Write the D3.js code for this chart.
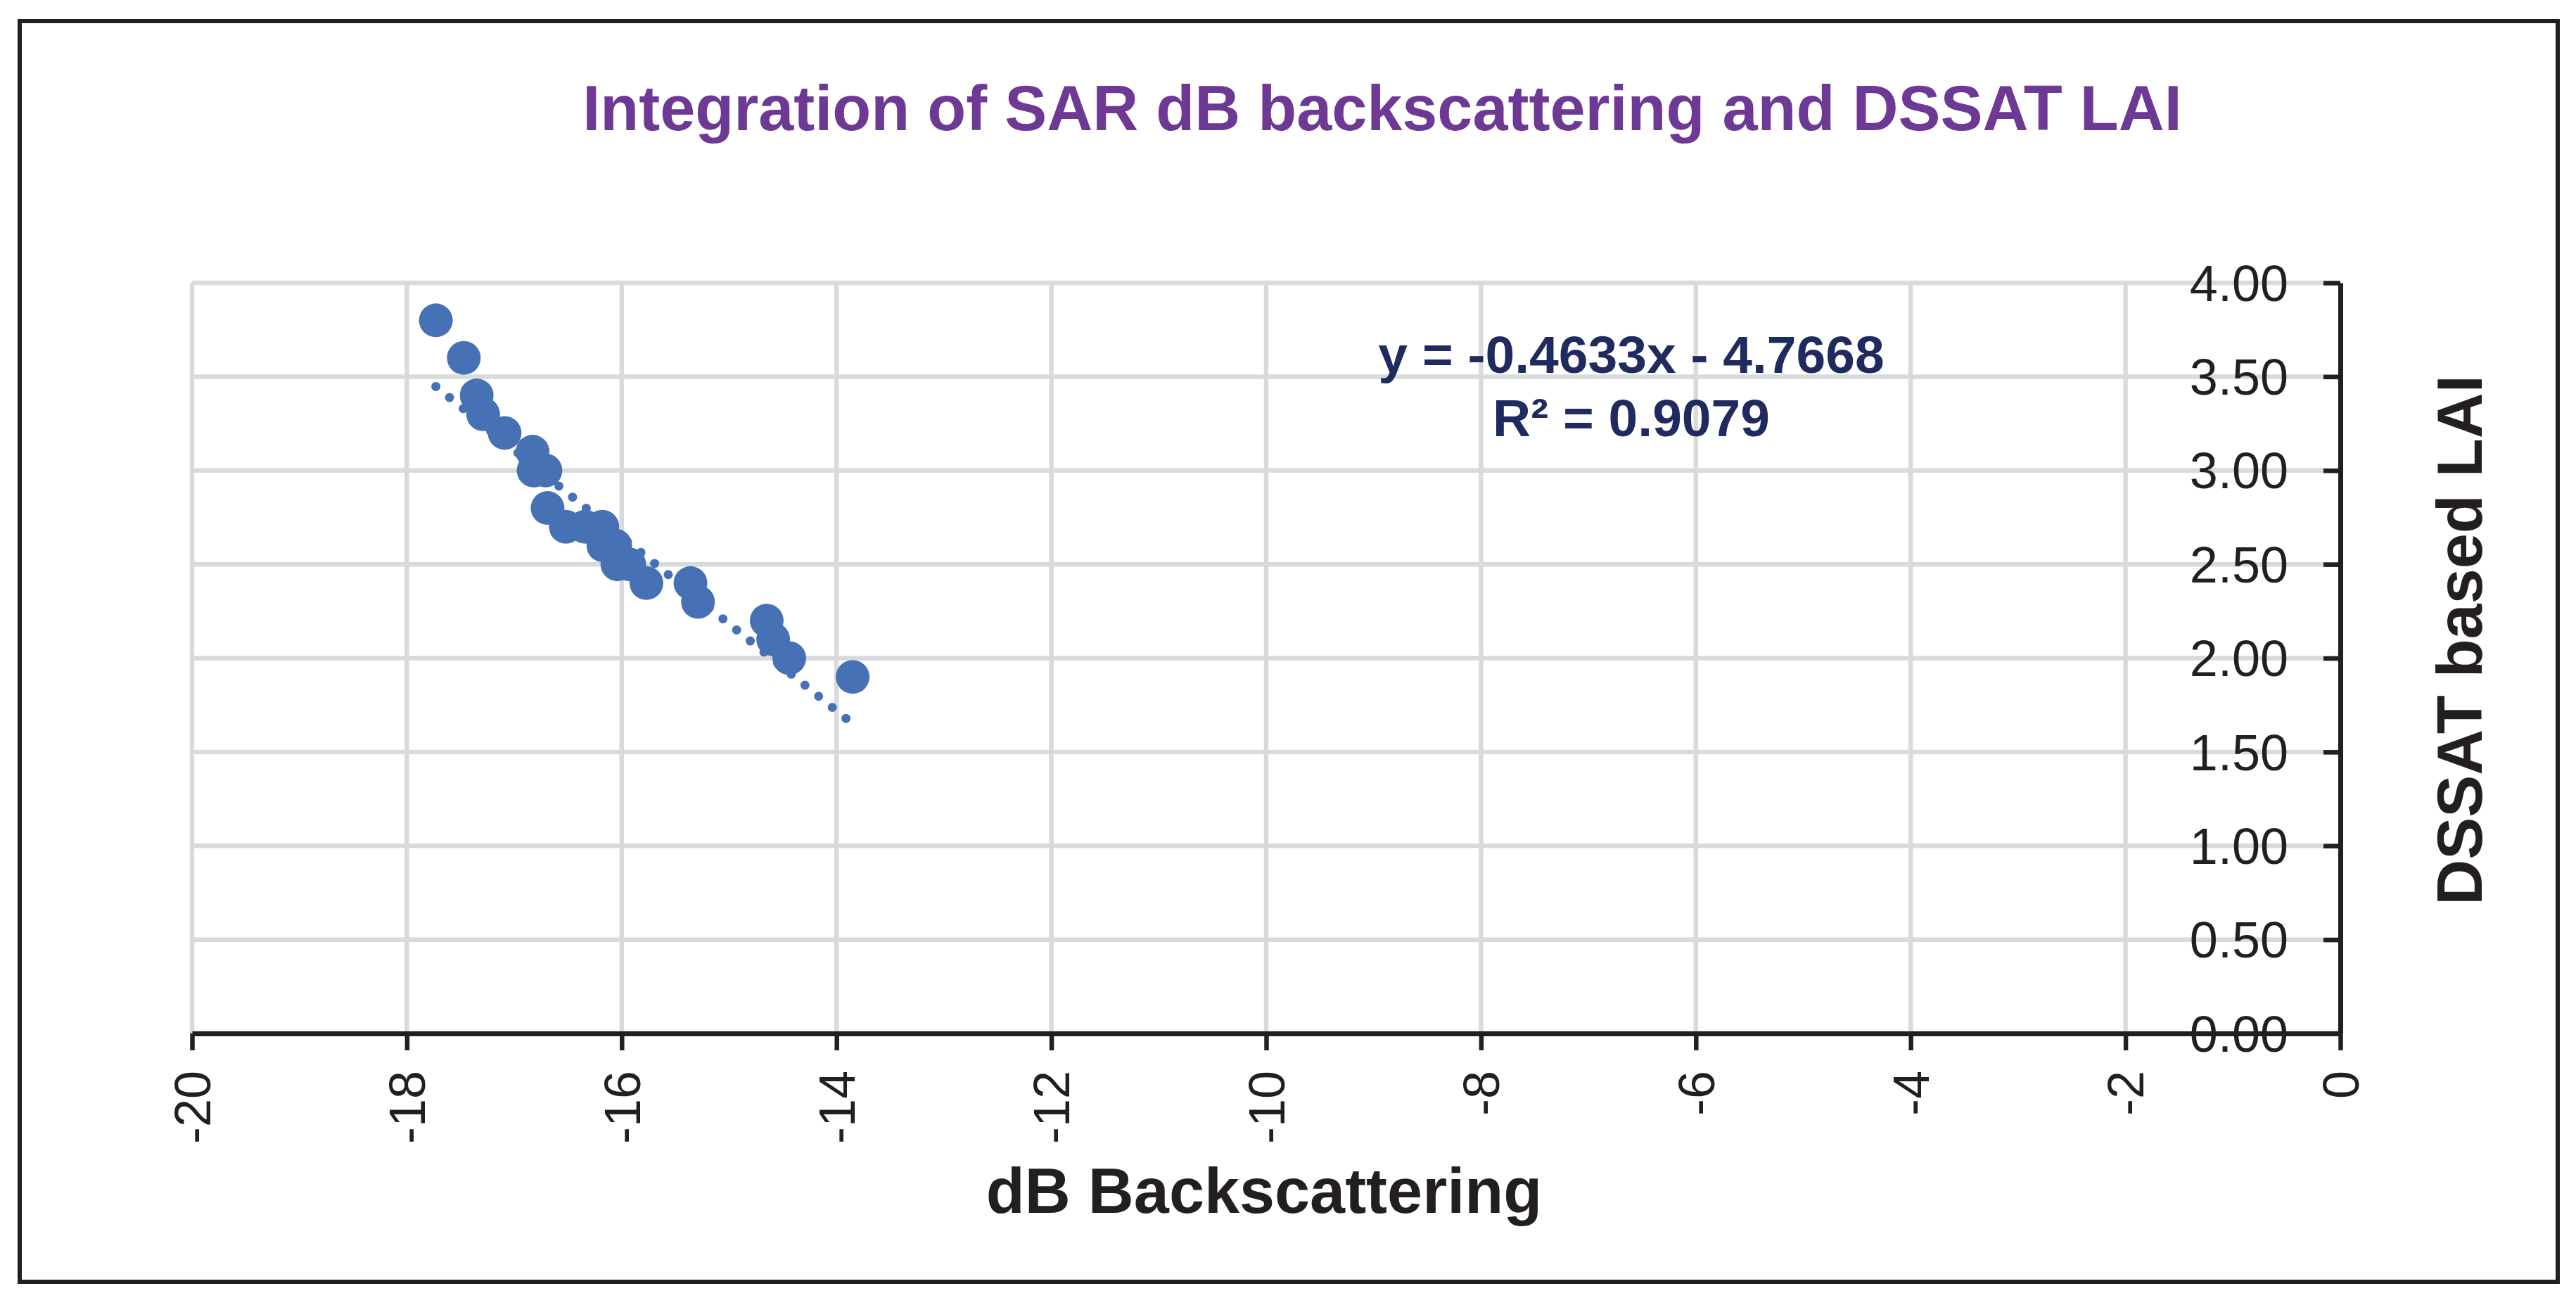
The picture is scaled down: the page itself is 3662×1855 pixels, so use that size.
<!DOCTYPE html>
<html>
<head>
  <meta charset='utf-8'>
  <title>Integration of SAR dB backscattering and DSSAT LAI</title>
  <script src='https://cdn.jsdelivr.net/npm/d3@7/dist/d3.min.js'></script>
  <style>
    body { margin: 0; background: #ffffff; }
    svg { display: block; font-family: 'Liberation Sans', Arial, sans-serif; }
  </style>
</head>
<body>
  <svg id='chart'></svg>
  <script>
    // data
    const backscatterDb = [
      -17.73, -17.47, -17.35, -17.29, -17.09, -16.83, -16.82, -16.71,
      -16.69, -16.52, -16.34, -16.18, -16.17, -16.06, -16.04, -15.93,
      -15.77, -15.36, -15.29, -14.65, -14.59, -14.44, -13.85
    ];
    const dssatLai = [
      3.80, 3.60, 3.40, 3.30, 3.20, 3.10, 3.00, 3.00,
      2.80, 2.70, 2.70, 2.70, 2.60, 2.60, 2.50, 2.50,
      2.40, 2.40, 2.30, 2.20, 2.10, 2.00, 1.90
    ];
    const trendSlope = -0.4633;
    const trendIntercept = -4.7668;
    const trendLabels = ['y = -0.4633x - 4.7668', 'R\u00b2 = 0.9079'];
    const xTicks = [-20, -18, -16, -14, -12, -10, -8, -6, -4, -2, 0];
    const yTicks = [0, 0.5, 1, 1.5, 2, 2.5, 3, 3.5, 4];
    const titleText = 'Integration of SAR dB backscattering and DSSAT LAI';
    const xTitle = 'dB Backscattering';
    const yTitle = 'DSSAT based LAI';

    const width = 3662;
    const height = 1855;
    const plot = { left: 273, right: 3327, top: 402, bottom: 1469 };
    const ink = '#231f20';
    const gridColor = '#d9dadb';
    const dotColor = '#4672b5';

    const svg = d3.select('#chart')
        .attr('width', width)
        .attr('height', height);

    svg.append('rect')
        .attr('width', width)
        .attr('height', height)
        .attr('fill', '#ffffff');

    // outer frame
    svg.append('rect')
        .attr('x', 28)
        .attr('y', 30)
        .attr('width', 3608)
        .attr('height', 1792)
        .attr('fill', 'none')
        .attr('stroke', ink)
        .attr('stroke-width', 6);

    const x = d3.scaleLinear()
        .domain([-20, 0])
        .range([plot.left, plot.right]);
    const y = d3.scaleLinear()
        .domain([0, 4])
        .range([plot.bottom, plot.top]);

    // gridlines
    const grid = svg.append('g')
        .attr('stroke', gridColor)
        .attr('stroke-width', 6.5);
    grid.selectAll('.vgrid')
        .data(xTicks)
        .join('line')
            .attr('x1', d => x(d))
            .attr('x2', d => x(d))
            .attr('y1', y(4))
            .attr('y2', y(0));
    grid.selectAll('.hgrid')
        .data(yTicks)
        .join('line')
            .attr('x1', x(-20))
            .attr('x2', x(0))
            .attr('y1', d => y(d))
            .attr('y2', d => y(d));

    // x axis at y = 0 with rotated labels
    const gX = svg.append('g')
        .attr('transform', `translate(0, ${y(0)})`)
        .call(d3.axisBottom(x)
            .tickValues(xTicks)
            .tickFormat(d => String(d))
            .tickSize(24)
            .tickSizeOuter(0));
    gX.selectAll('text')
        .attr('transform', 'rotate(-90)')
        .attr('text-anchor', 'end')
        .attr('x', -53)
        .attr('y', 0)
        .attr('dy', '0.35em');

    // y axis sits at x = 0, on the right
    const gY = svg.append('g')
        .attr('transform', `translate(${x(0)}, 0)`)
        .call(d3.axisLeft(y)
            .tickValues(yTicks)
            .tickFormat(d3.format('.2f'))
            .tickSize(24)
            .tickSizeOuter(0)
            .tickPadding(50));
    gY.selectAll('text')
        .attr('dy', '0.35em');

    [gX, gY].forEach(g => {
        g.attr('font-family', null).attr('font-size', null);
        g.select('.domain')
            .attr('stroke', ink)
            .attr('stroke-width', 7);
        g.selectAll('.tick line')
            .attr('stroke', ink)
            .attr('stroke-width', 6.5);
        g.selectAll('.tick text')
            .attr('fill', ink)
            .attr('font-size', 72);
    });

    // data points
    const points = backscatterDb.map((v, i) => ({ db: v, lai: dssatLai[i] }));
    svg.append('g')
        .selectAll('circle')
        .data(points)
        .join('circle')
            .attr('cx', d => x(d.db))
            .attr('cy', d => y(d.lai))
            .attr('r', 24)
            .attr('fill', dotColor);

    // dotted linear trendline over the data range
    const [xMin, xMax] = d3.extent(backscatterDb);
    const trend = d3.line()
        .x(d => x(d))
        .y(d => y(trendSlope * d + trendIntercept));
    svg.append('path')
        .datum([xMin, xMax])
        .attr('d', trend)
        .attr('fill', 'none')
        .attr('stroke', dotColor)
        .attr('stroke-width', 13)
        .attr('stroke-linecap', 'round')
        .attr('stroke-dasharray', '0 25');

    // equation and R squared
    svg.append('g')
        .selectAll('text')
        .data(trendLabels)
        .join('text')
            .attr('x', 2319)
            .attr('y', (d, i) => 530 + i * 90)
            .attr('text-anchor', 'middle')
            .attr('font-size', 75)
            .attr('font-weight', 'bold')
            .attr('fill', '#1f2a5e')
            .text(d => d);

    // titles
    svg.append('text')
        .attr('x', 1965)
        .attr('y', 185)
        .attr('text-anchor', 'middle')
        .attr('font-size', 90)
        .attr('font-weight', 'bold')
        .attr('fill', '#6e3995')
        .text(titleText);

    svg.append('text')
        .attr('x', 1797)
        .attr('y', 1724)
        .attr('text-anchor', 'middle')
        .attr('font-size', 90)
        .attr('font-weight', 'bold')
        .attr('fill', ink)
        .text(xTitle);

    svg.append('text')
        .attr('transform', 'translate(3528, 910) rotate(-90)')
        .attr('text-anchor', 'middle')
        .attr('font-size', 90)
        .attr('font-weight', 'bold')
        .attr('fill', ink)
        .text(yTitle);
  </script>
</body>
</html>
